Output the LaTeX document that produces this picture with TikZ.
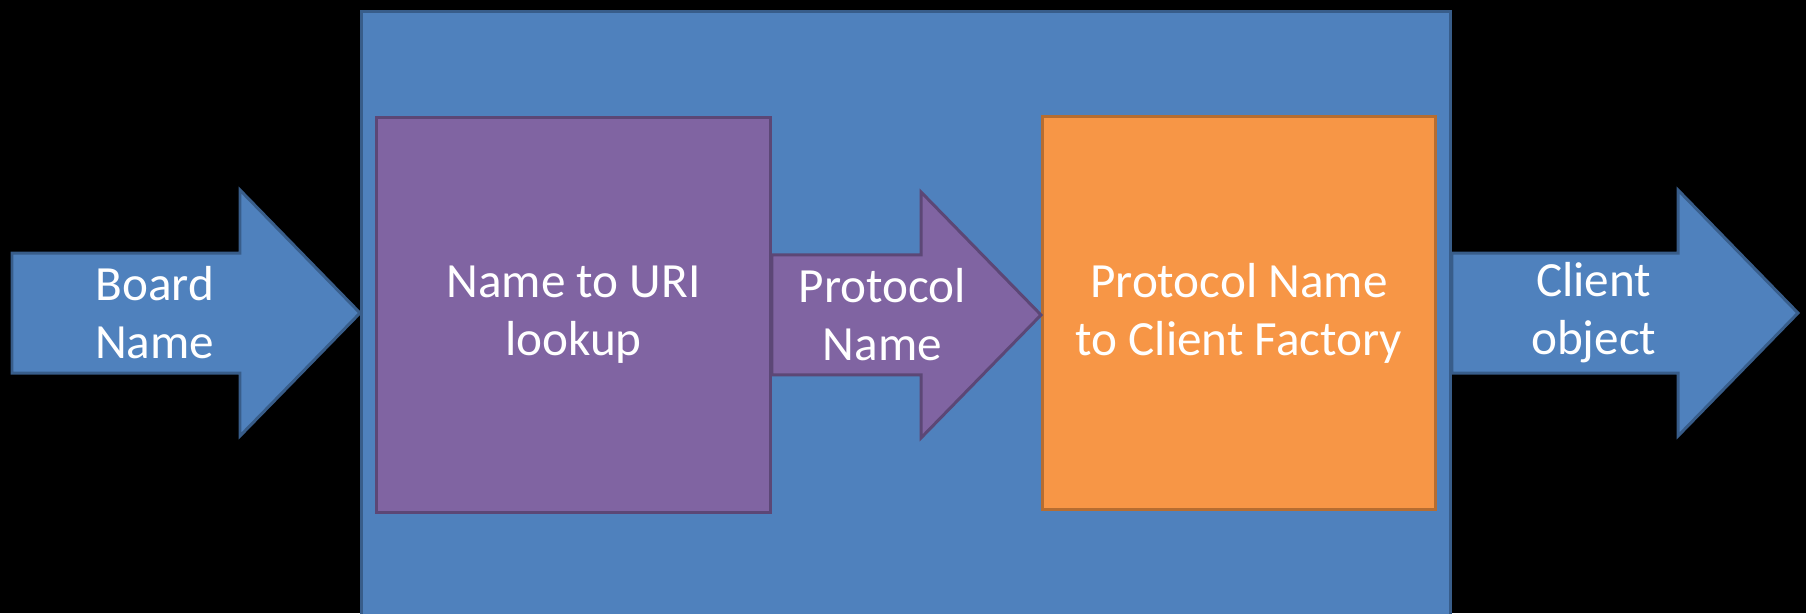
\documentclass[tikz,border=0pt]{standalone}
\usepackage{fontspec}
\setmainfont{Carlito}
\usetikzlibrary{calc}
\definecolor{boxblue}{HTML}{4F81BD}
\definecolor{edgeblue}{HTML}{385D8A}
\definecolor{boxpurple}{HTML}{8064A2}
\definecolor{edgepurple}{HTML}{5C4776}
\definecolor{boxorange}{HTML}{F79646}
\definecolor{edgeorange}{HTML}{B66D31}

% fat block arrow: from, tip, colours, text
\newcommand{\blockarrow}[4]{%
  \draw[#3] ($(#1)+(0,-60)$) -- ($(#2)+(-120,-60)$) -- ($(#2)+(-120,-123)$) -- (#2)
    -- ($(#2)+(-120,123)$) -- ($(#2)+(-120,60)$) -- ($(#1)+(0,60)$) -- cycle;
  \node[arrowtext] at ($(#1)!0.41!(#2)$) {#4};
}

\begin{document}
\begin{tikzpicture}[x=0.02cm,y=-0.02cm,line width=1.7pt,line join=miter]
\tikzstyle{every node}=[text=white,font=\fontsize{28}{33}\selectfont,align=center]
\tikzstyle{blockbox}=[rectangle,anchor=north west,inner sep=0pt]
\tikzstyle{arrowtext}=[inner sep=0pt]
\tikzstyle{bluearrow}=[fill=boxblue,draw=edgeblue]
\tikzstyle{purplearrow}=[fill=boxpurple,draw=edgepurple]

\fill[black] (0,0) rectangle (1806,613);
\useasboundingbox (0,0) rectangle (1806,613);
\clip (0,0) rectangle (1806,613);

\node[blockbox,fill=boxblue,draw=edgeblue,minimum width=21.78cm,minimum height=12.6cm] (engine) at (360,10) {};
\node[blockbox,fill=boxpurple,draw=edgepurple,minimum width=7.88cm,minimum height=7.9cm] (lookup) at (375,116) {Name to URI\\lookup};
\node[blockbox,fill=boxorange,draw=edgeorange,minimum width=7.86cm,minimum height=7.86cm] (factory) at (1041,115) {Protocol Name\\to Client Factory};

\coordinate (board) at (12,313);
\coordinate (client) at (1798,313);
\coordinate (enginein) at (board -| engine.west);
\coordinate (engineout) at (client -| engine.east);
\coordinate (factoryin) at (lookup.east -| factory.west);

\blockarrow{board}{enginein}{bluearrow}{Board\\Name}
\blockarrow{lookup.east}{factoryin}{purplearrow}{Protocol\\Name}
\blockarrow{engineout}{client}{bluearrow}{Client\\object}
\end{tikzpicture}
\end{document}
